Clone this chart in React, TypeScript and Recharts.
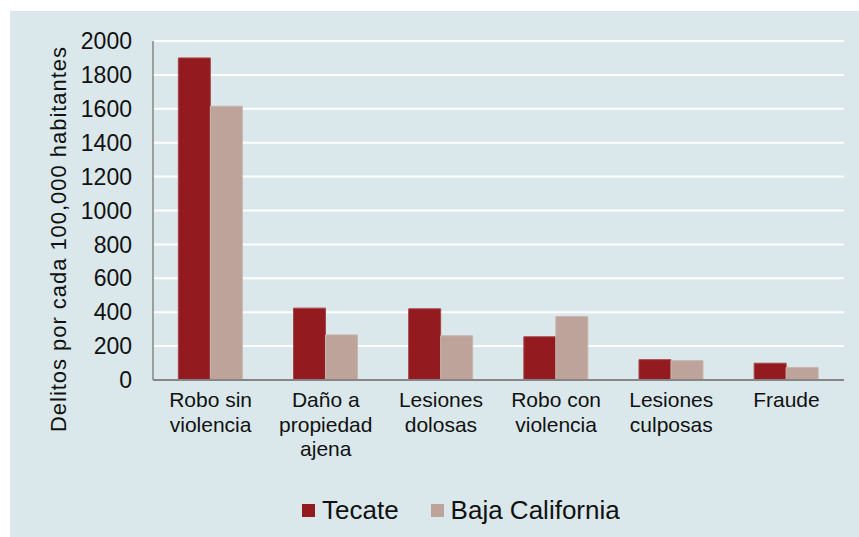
import { Bar, BarChart, CartesianGrid, Legend, XAxis, YAxis } from "recharts";

const categories = [
  "Robo sin\nviolencia",
  "Daño a\npropiedad\najena",
  "Lesiones\ndolosas",
  "Robo con\nviolencia",
  "Lesiones\nculposas",
  "Fraude",
];
const tecate = [1900, 424, 420, 255, 120, 99];
const bajaCalifornia = [1615, 266, 261, 375, 114, 74];
const yTicks = [0, 200, 400, 600, 800, 1000, 1200, 1400, 1600, 1800, 2000];

const data = categories.map((c, i) => ({
  name: c,
  tecate: tecate[i],
  baja: bajaCalifornia[i],
}));

const FONT = "'Liberation Sans', Arial, sans-serif";
const RED = "#931a1f";
const TAN = "#bda39a";

function CategoryTick(props: any) {
  const { x, y, payload } = props;
  const lines = String(payload.value).split("\n");
  return (
    <text x={x} y={y} textAnchor="middle" fontFamily={FONT} fontSize={21} fill="#111">
      {lines.map((l, i) => (
        <tspan key={i} x={x} dy={i === 0 ? 19 : 24.5}>
          {l}
        </tspan>
      ))}
    </text>
  );
}

function LegendBox() {
  const item = (color: string, label: string, gap: number) => (
    <div style={{ display: "flex", alignItems: "center", marginRight: gap }}>
      <span style={{ width: 13, height: 13, background: color, marginRight: 7 }} />
      <span>{label}</span>
    </div>
  );
  return (
    <div
      style={{
        display: "flex",
        height: 30,
        lineHeight: "30px",
        paddingLeft: 292,
        fontFamily: FONT,
        fontSize: 26,
        color: "#111",
      }}
    >
      {item(RED, "Tecate", 32)}
      {item(TAN, "Baja California", 0)}
    </div>
  );
}

export default function App() {
  return (
    <div style={{ position: "absolute", left: 0, top: 0, width: 859, height: 537, background: "#fff" }}>
      <div style={{ position: "absolute", left: 10, top: 11, width: 849, height: 526, background: "#dae8eb" }}>
        <BarChart
          width={849}
          height={526}
          data={data}
          margin={{ top: 30, right: 15, left: 0, bottom: 12 }}
          barCategoryGap="22%"
          barGap={0}
        >
          <CartesianGrid vertical={false} stroke="#ffffff" strokeWidth={2} />
          <XAxis
            dataKey="name"
            tick={<CategoryTick />}
            tickLine={false}
            axisLine={{ stroke: "#868686", strokeWidth: 2 }}
            height={115}
            interval={0}
          />
          <YAxis
            domain={[0, 2000]}
            ticks={yTicks}
            width={143}
            tickLine={false}
            tickSize={0}
            tickMargin={21}
            axisLine={{ stroke: "#868686", strokeWidth: 1.5 }}
            tick={{ fontFamily: FONT, fontSize: 23, fill: "#111" }}
            label={{
              content: () => (
                <text
                  x={56}
                  y={228.5}
                  transform="rotate(-90, 56, 228.5)"
                  textAnchor="middle"
                  fontFamily={FONT}
                  fontSize={22}
                  fill="#111"
                  textLength={385}
                  lengthAdjust="spacing"
                >
                  Delitos por cada 100,000 habitantes
                </text>
              ),
            }}
          />
          <Legend verticalAlign="bottom" content={<LegendBox />} />
          <Bar dataKey="tecate" name="Tecate" fill={RED} stroke="#a8454a" strokeWidth={1} isAnimationActive={false} />
          <Bar dataKey="baja" name="Baja California" fill={TAN} stroke="#c9b5ae" strokeWidth={1} isAnimationActive={false} />
        </BarChart>
      </div>
    </div>
  );
}
